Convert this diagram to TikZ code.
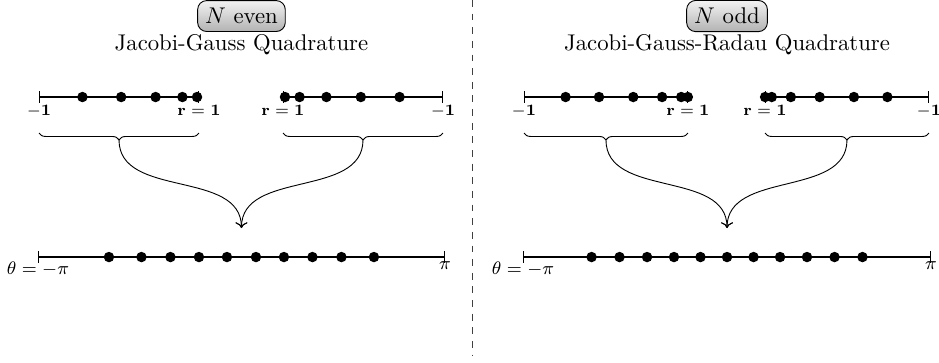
\documentclass[tikz,border=0pt]{standalone}
\usepackage{amsmath}
\usetikzlibrary{arrows, arrows.meta}
\usetikzlibrary{decorations.pathreplacing, math}

\tikzset{
  qaxis/.style={{Bar[width=5pt,line width=0.5pt]}-{Bar[width=5pt,line width=0.5pt]}, thick},
  qdot/.style={circle, fill=black, inner sep=0pt, minimum size=4.6pt},
  tagbox/.style={draw, rounded corners=4pt, top color=black!5, bottom color=black!30},
  rlabel/.style={below, inner sep=3.5pt, font=\scriptsize},
  tlabel/.style={below, inner sep=2pt, font=\footnotesize},
  grp/.style={decorate, decoration={brace, mirror, amplitude=3pt}},
}

\begin{document}
\begin{tikzpicture}
\tikzmath{
\yt=5.349;%tag
\yh=4.901;%heading
\ys=4.097;%small axes
\yb=3.540;%braces
\am=0.106;%brace amplitude
\ya=2.072;%arrow end
\yf=1.623;%full axis
}
\useasboundingbox (0,0) rectangle (14.517,5.597);

%separator
\draw[dashed, black!75] (7.297,5.597) -- (7.297,0.1);

%%%%% N even
\tikzmath{\xa=0.603; \xb=4.375; \ls=2.474; \xm=3.733; \lf=3.146;}
\node[tagbox] (tagE) at (\xm,\yt) {$N$ even};
\node (headE) at (\xm,\yh) {Jacobi-Gauss Quadrature};
%small axes
\coordinate (aE1) at (\xa,\ys);
\coordinate (aE2) at ({\xa+\ls},\ys);
\coordinate (bE1) at (\xb,\ys);
\coordinate (bE2) at ({\xb+\ls},\ys);
\draw[qaxis] (aE1) -- (aE2);
\draw[qaxis] (bE1) -- (bE2);
\node[rlabel] (mE1) at (aE1) {$\mathbf{-1}$};
\node[rlabel] (rE1) at (aE2) {$\mathbf{r=1}$};
\node[rlabel] (rE2) at (bE1) {$\mathbf{r=1}$};
\node[rlabel] (mE2) at (bE2) {$\mathbf{-1}$};
\foreach \q [count=\k] in {0.0713,0.2088,0.3489,0.4914,0.6511}{
 \node[qdot] (dEa\k) at ({\xa+(1+cos(180*\q))*\ls/2},\ys) {};
 \node[qdot] (dEb\k) at ({\xb+(1-cos(180*\q))*\ls/2},\ys) {};
}
%braces and arrows
\draw[grp] (\xa,\yb) -- +(\ls,0);
\draw[grp] (\xb,\yb) -- +(\ls,0);
\coordinate (tEa) at ({\xa+\ls/2},{\yb-\am});
\coordinate (tEb) at ({\xb+\ls/2},{\yb-\am});
\coordinate (jE) at (\xm,\ya);
\draw[->] (tEa) to[out=-90,in=90] (jE);
\draw[->] (tEb) to[out=-90,in=90] (jE);
%full axis
\coordinate (fE1) at ({\xm-\lf},\yf);
\coordinate (fE2) at ({\xm+\lf},\yf);
\draw[qaxis] (fE1) -- (fE2);
\node[tlabel] (thE1) at (fE1) {$\theta=-\pi$};
\node[tlabel] (thE2) at (fE2) {$\pi$};
\foreach \q [count=\k] in {-0.6511,-0.4914,-0.3489,-0.2088,-0.0713,0.0713,0.2088,0.3489,0.4914,0.6511}
 \node[qdot] (dEf\k) at ({\xm+\q*\lf},\yf) {};

%%%%% N odd
\tikzmath{\xa=8.101; \xb=11.827; \ls=2.535; \xm=11.240; \lf=3.154;}
\node[tagbox] (tagO) at (\xm,\yt) {$N$ odd};
\node (headO) at (\xm,\yh) {Jacobi-Gauss-Radau Quadrature};
%small axes
\coordinate (aO1) at (\xa,\ys);
\coordinate (aO2) at ({\xa+\ls},\ys);
\coordinate (bO1) at (\xb,\ys);
\coordinate (bO2) at ({\xb+\ls},\ys);
\draw[qaxis] (aO1) -- (aO2);
\draw[qaxis] (bO1) -- (bO2);
\node[rlabel] (mO1) at (aO1) {$\mathbf{-1}$};
\node[rlabel] (rO1) at (aO2) {$\mathbf{r=1}$};
\node[rlabel] (rO2) at (bO1) {$\mathbf{r=1}$};
\node[rlabel] (mO2) at (bO2) {$\mathbf{-1}$};
\foreach \q [count=\k] in {0.016,0.130,0.260,0.392,0.527,0.664}{
 \node[qdot] (dOa\k) at ({\xa+(1+cos(180*\q))*\ls/2},\ys) {};
 \node[qdot] (dOb\k) at ({\xb+(1-cos(180*\q))*\ls/2},\ys) {};
}
%braces and arrows
\draw[grp] (\xa,\yb) -- +(\ls,0);
\draw[grp] (\xb,\yb) -- +(\ls,0);
\coordinate (tOa) at ({\xa+\ls/2},{\yb-\am});
\coordinate (tOb) at ({\xb+\ls/2},{\yb-\am});
\coordinate (jO) at (\xm,\ya);
\draw[->] (tOa) to[out=-90,in=90] (jO);
\draw[->] (tOb) to[out=-90,in=90] (jO);
%full axis
\coordinate (fO1) at ({\xm-\lf},\yf);
\coordinate (fO2) at ({\xm+\lf},\yf);
\draw[qaxis] (fO1) -- (fO2);
\node[tlabel] (thO1) at (fO1) {$\theta=-\pi$};
\node[tlabel] (thO2) at (fO2) {$\pi$};
\foreach \q [count=\k] in {-0.664,-0.527,-0.392,-0.260,-0.130,0,0.130,0.260,0.392,0.527,0.664}
 \node[qdot] (dOf\k) at ({\xm+\q*\lf},\yf) {};
\end{tikzpicture}
\end{document}
